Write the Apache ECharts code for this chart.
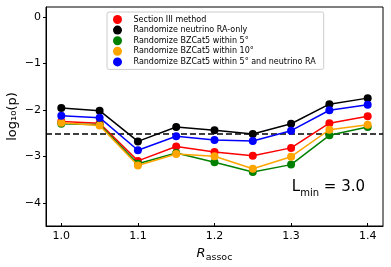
<!DOCTYPE html>
<html><head><meta charset="utf-8">
<script src="https://cdn.jsdelivr.net/npm/echarts@6/dist/echarts.min.js"></script>
<style>html,body{margin:0;padding:0;background:#fff}#c{width:391px;height:267px}</style>
</head><body><div id="c"></div>
<script>
const rAssoc = [1.0, 1.05, 1.1, 1.15, 1.2, 1.25, 1.3, 1.35, 1.4];
const seriesNames = [
  'Section III method',
  'Randomize neutrino RA-only',
  'Randomize BZCat5 within 5°',
  'Randomize BZCat5 within 10°',
  'Randomize BZCat5 within 5° and neutrino RA'
];
const sectionIII   = [-2.25, -2.29, -3.10, -2.79, -2.91, -2.99, -2.82, -2.29, -2.14];
const raOnly       = [-1.96, -2.02, -2.68, -2.37, -2.44, -2.52, -2.30, -1.88, -1.75];
const within5      = [-2.30, -2.32, -3.16, -2.93, -3.13, -3.34, -3.18, -2.55, -2.37];
const within10     = [-2.28, -2.34, -3.20, -2.95, -3.00, -3.27, -3.01, -2.43, -2.32];
const within5AndRA = [-2.13, -2.17, -2.87, -2.57, -2.65, -2.67, -2.45, -2.01, -1.89];
const thresholdLog = -2.52;
const yTicks = [-4, -3, -2, -1, 0];
const xTicks = [1.0, 1.1, 1.2, 1.3, 1.4];
const colors = ['#ff0000', '#000000', '#008000', '#ffa500', '#0000ff'];
const allValues = [sectionIII, raOnly, within5, within10, within5AndRA];

const FONT = 'DejaVu Sans';
const chart = echarts.init(document.getElementById('c'), null, {renderer: 'canvas'});
const series = allValues.map((vals, i) => ({
  name: seriesNames[i],
  type: 'line',
  data: rAssoc.map((x, j) => [x, vals[j]]),
  symbol: 'circle',
  symbolSize: 8,
  lineStyle: {color: colors[i], width: 1.5},
  itemStyle: {color: colors[i]},
  z: 3 + i,
  animation: false
}));
series.push({
  name: 'threshold',
  type: 'line',
  data: [[0.98, thresholdLog], [1.42, thresholdLog]],
  symbol: 'none',
  lineStyle: {color: '#000', width: 1.5, type: [6, 3]},
  z: 2,
  animation: false
});
chart.setOption({
  animation: false,
  textStyle: {fontFamily: FONT},
  grid: {left: 46, right: 8, top: 7, bottom: 41, containLabel: false, outerBoundsMode: 'none', show: true, borderColor: '#000', borderWidth: 1, backgroundColor: 'transparent'},
  legend: {
    data: seriesNames,
    orient: 'vertical',
    left: 107, top: 12,
    width: 216,
    padding: [3, 8, 3, 6],
    itemGap: 1.6,
    itemWidth: 10, itemHeight: 9,
    icon: 'circle',
    borderColor: '#cccccc', borderWidth: 1, borderRadius: 2,
    backgroundColor: '#fff',
    textStyle: {fontFamily: FONT, fontSize: 8, color: '#000', padding: [0, 0, 0, 6]}
  },
  xAxis: {
    type: 'value', min: 0.98, max: 1.42,
    splitLine: {show: false},
    axisLine: {show: true, onZero: false, lineStyle: {color: '#000'}},
    axisTick: {show: true, inside: true, length: 3, customValues: xTicks, lineStyle: {color: '#000'}},
    axisLabel: {customValues: xTicks, formatter: v => v.toFixed(1), color: '#000', fontSize: 11, fontFamily: FONT, margin: 5},
    name: '{i|R}{s|assoc}',
    nameLocation: 'middle', nameGap: 15,
    nameTextStyle: {
      rich: {
        i: {fontStyle: 'italic', fontSize: 13, fontFamily: FONT, color: '#000', verticalAlign: 'bottom', lineHeight: 16},
        s: {fontSize: 9.5, fontFamily: FONT, color: '#000', verticalAlign: 'bottom', lineHeight: 10, padding: [0, 0, -3, 0]}
      }
    }
  },
  yAxis: {
    type: 'value', min: -4.5, max: 0.21,
    splitLine: {show: false},
    axisLine: {show: true, onZero: false, lineStyle: {color: '#000'}},
    axisTick: {show: true, inside: false, length: 3, customValues: yTicks, lineStyle: {color: '#000'}},
    axisLabel: {customValues: yTicks, formatter: v => String(v).replace('-', '\u2212'), color: '#000', fontSize: 11, fontFamily: FONT, margin: 5},
    name: 'log\u2081\u2080(p)',
    nameLocation: 'middle', nameGap: 27, nameRotate: 90, nameMoveOverlap: false,
    nameTextStyle: {fontSize: 13, fontFamily: FONT, color: '#000'}
  },
  graphic: [{
    type: 'text',
    right: 26, top: 180,
    style: {
      text: '{a|L}{b|min}{a| = 3.0}',
      rich: {
        a: {fontSize: 15, fontFamily: FONT, fill: '#000', verticalAlign: 'bottom', lineHeight: 18},
        b: {fontSize: 10, fontFamily: FONT, fill: '#000', verticalAlign: 'bottom', lineHeight: 12, padding: [0, 0, -3, 0]}
      }
    }
  }],
  series: series
});
</script></body></html>
